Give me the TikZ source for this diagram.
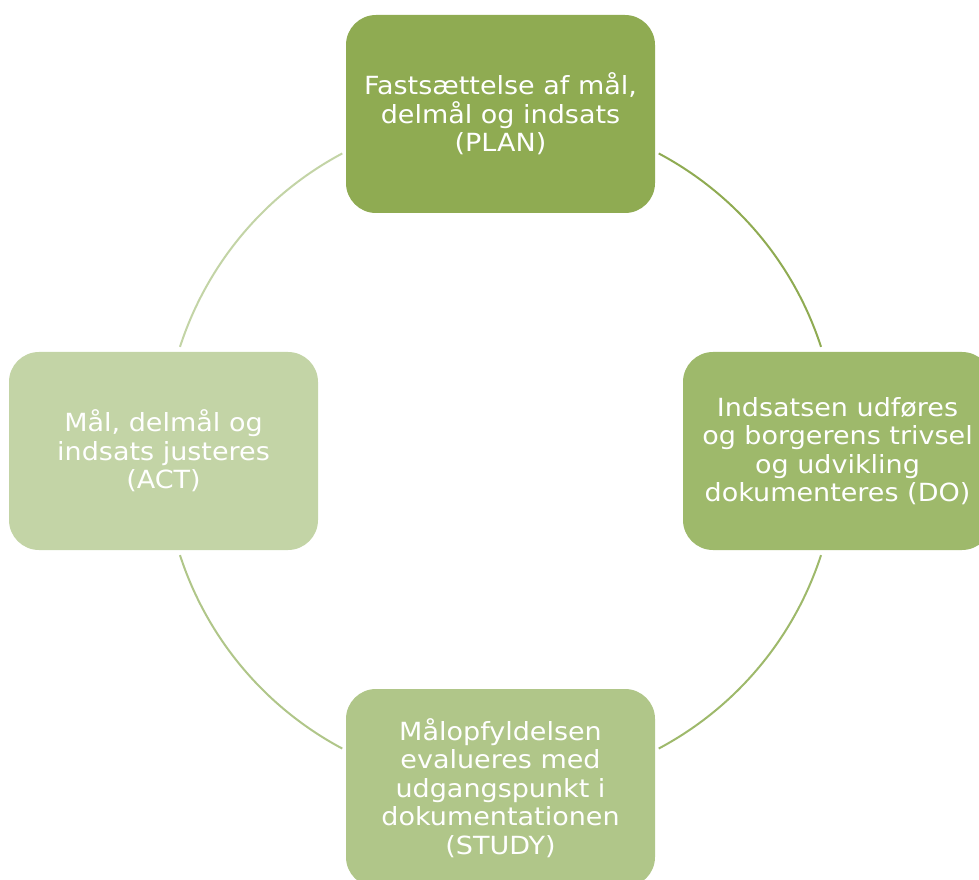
\documentclass[tikz,border=0pt]{standalone}
\usepackage{fontspec}
\setmainfont{DejaVu Sans}[FakeStretch=1.08]
\usetikzlibrary{positioning,calc}
\definecolor{planfill}{HTML}{8FAB52}
\definecolor{dofill}{HTML}{9EB96B}
\definecolor{studyfill}{HTML}{B0C689}
\definecolor{actfill}{HTML}{C3D4A6}
\tikzset{
  stagebox/.style={rounded corners=30pt, minimum width=309pt, minimum height=198pt,
    align=center, text=white, inner sep=0pt, font=\fontsize{25}{28.5}\selectfont},
  cyclearc/.style={line width=2pt}
}
\begin{document}
\begin{tikzpicture}[x=1pt,y=1pt]
        \useasboundingbox (0,0) rectangle (979,879);
        \clip (0,0) rectangle (979,879);
        \coordinate (hub) at (500.5,428);
        \node[stagebox, fill=planfill] (plan) at ($(hub)+(0,337)$) {Fasts\ae ttelse af mål,\\delmål og indsats\\(PLAN)};
        \node[stagebox, fill=dofill] (do) at ($(hub)+(337,0)$) {Indsatsen udføres\\og borgerens trivsel\\og udvikling\\dokumenteres (DO)};
        \node[stagebox, fill=studyfill] (study) at ($(hub)+(0,-337)$) {Målopfyldelsen\\evalueres med\\udgangspunkt i\\dokumentationen\\(STUDY)};
        \node[stagebox, fill=actfill] (act) at ($(hub)+(-337,0)$) {Mål, delmål og\\indsats justeres\\(ACT)};
        % arcs between the stages
        \draw[cyclearc, planfill] ($(hub)+(62:337)$) arc[start angle=62, end angle=18, radius=337];
        \draw[cyclearc, dofill] ($(hub)+(-18:337)$) arc[start angle=-18, end angle=-62, radius=337];
        \draw[cyclearc, studyfill] ($(hub)+(-118:337)$) arc[start angle=-118, end angle=-162, radius=337];
        \draw[cyclearc, actfill] ($(hub)+(162:337)$) arc[start angle=162, end angle=118, radius=337];
      \end{tikzpicture}
\end{document}
